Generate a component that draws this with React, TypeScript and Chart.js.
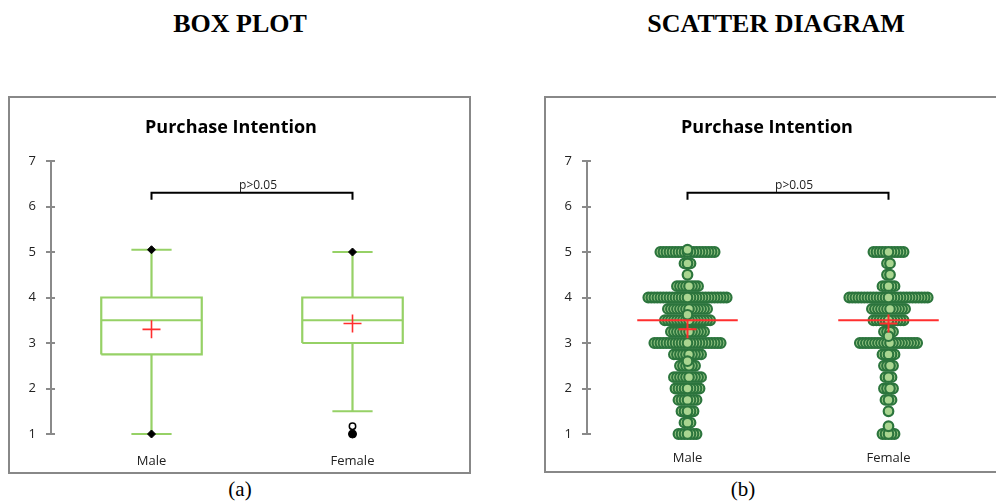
import React, { useEffect, useRef } from "react";
import { Chart, registerables } from "chart.js";

Chart.register(...registerables);

// ---------- data ----------
const CATEGORIES = ["Male", "Female"];
const CHART_TITLE = "Purchase Intention";
const P_LABEL = "p>0.05";
const Y_TICKS = [1, 2, 3, 4, 5, 6, 7];

// box plot summary
const BOX_Q1 = [2.75, 3];
const BOX_MEDIAN = [3.5, 3.5];
const BOX_Q3 = [4, 4];
const WHISKER_LOW = [1, 1.5];
const WHISKER_HIGH = [5.05, 5];
const MEANS = [3.3, 3.43];
const EXTREMES = [[1, 5.05], [5]];
const FILLED_OUTLIERS = [[], [1]];
const OPEN_OUTLIERS = [[], [1.17]];

// significance bracket
const BRACKET_LEVEL = 6.3;
const BRACKET_FOOT = 6.15;

// scatter diagram (panel b): responses per score level
const SCORE_LEVELS = [5, 4.75, 4.5, 4.25, 4, 3.75, 3.5, 3.25, 3, 2.75, 2.5, 2.25, 2, 1.75, 1.5, 1.25, 1];
const MALE_COUNTS = [19, 3, 1, 8, 27, 14, 16, 12, 23, 10, 6, 10, 9, 7, 5, 3, 7];
const FEMALE_COUNTS = [11, 2, 2, 5, 27, 12, 11, 4, 20, 5, 4, 3, 4, 3, 1, 0, 5];
const MALE_SINGLES = [5.05, 3.62, 2.6];
const FEMALE_SINGLES = [3.15, 1.17];

// ---------- styles ----------
const GREEN = "#96d166";
const DOT_FILL = "#a9d590";
const DOT_EDGE = "#2c753d";
const RED = "#ff2e2e";
const AXIS = "#8a8a8a";
const HALF_BOX = 0.25;
const HALF_CAP = 0.1;
const DOT_STEP = 0.015;

const seg = (pts: any[], color: string, width: number, order = 0) => ({
  type: "scatter",
  data: pts,
  showLine: true,
  borderColor: color,
  borderWidth: width,
  pointRadius: 0,
  pointHoverRadius: 0,
  fill: false,
  clip: false,
  order,
  tension: 0,
  borderCapStyle: "butt",
  borderJoinStyle: "miter",
});

const marks = (pts: any[], style: string, radius: number, bg: string, border: string, bw: number, order = 0) => ({
  type: "scatter",
  data: pts,
  showLine: false,
  pointStyle: style,
  pointRadius: radius,
  pointHoverRadius: radius,
  backgroundColor: bg,
  borderColor: border,
  borderWidth: bw,
  clip: false,
  order,
});

function boxDatasets() {
  const ds: any[] = [];
  CATEGORIES.forEach((_, i) => {
    const x = i + 1;
    const l = x - HALF_BOX, r = x + HALF_BOX;
    ds.push(seg([{ x, y: BOX_Q3[i] }, { x, y: WHISKER_HIGH[i] }], GREEN, 2.2, 2));
    ds.push(seg([{ x, y: BOX_Q1[i] }, { x, y: WHISKER_LOW[i] }], GREEN, 2.2, 2));
    ds.push(seg([{ x: x - HALF_CAP, y: WHISKER_HIGH[i] }, { x: x + HALF_CAP, y: WHISKER_HIGH[i] }], GREEN, 2.2, 2));
    ds.push(seg([{ x: x - HALF_CAP, y: WHISKER_LOW[i] }, { x: x + HALF_CAP, y: WHISKER_LOW[i] }], GREEN, 2.2, 2));
    ds.push(
      seg(
        [
          { x: l, y: BOX_Q1[i] },
          { x: r, y: BOX_Q1[i] },
          { x: r, y: BOX_Q3[i] },
          { x: l, y: BOX_Q3[i] },
          { x: l, y: BOX_Q1[i] },
        ],
        GREEN,
        2.2,
        2
      )
    );
    ds.push(seg([{ x: l, y: BOX_MEDIAN[i] }, { x: r, y: BOX_MEDIAN[i] }], GREEN, 2.2, 2));
    ds.push(marks([{ x, y: MEANS[i] }], "cross", 9, RED, RED, 1.6, 1));
    ds.push(marks(EXTREMES[i].map((y) => ({ x, y })), "rectRot", 4, "#000", "#000", 1, 0));
    ds.push(marks(FILLED_OUTLIERS[i].map((y) => ({ x, y })), "circle", 4, "#000", "#000", 1, 0));
    ds.push(marks(OPEN_OUTLIERS[i].map((y) => ({ x, y })), "circle", 3.2, "#fff", "#000", 1.5, 0));
  });
  return ds;
}

function swarm(x: number, counts: number[], singles: number[]) {
  const pts: any[] = [];
  SCORE_LEVELS.forEach((v, j) => {
    const n = counts[j];
    const ks: number[] = [];
    for (let k = 0; k < n; k++) ks.push(k - (n - 1) / 2);
    ks.sort((a, b) => Math.abs(b) - Math.abs(a) || a - b);
    ks.forEach((k) => pts.push({ x: x + k * DOT_STEP, y: v }));
  });
  singles.forEach((v) => pts.push({ x, y: v }));
  return pts;
}

function scatterDatasets() {
  const ds: any[] = [];
  const allCounts = [MALE_COUNTS, FEMALE_COUNTS];
  const allSingles = [MALE_SINGLES, FEMALE_SINGLES];
  CATEGORIES.forEach((_, i) => {
    const x = i + 1;
    ds.push(seg([{ x: x - HALF_BOX, y: BOX_MEDIAN[i] }, { x: x + HALF_BOX, y: BOX_MEDIAN[i] }], RED, 2, 1));
    ds.push(marks([{ x, y: MEANS[i] }], "cross", 9, RED, RED, 2, 0));
    ds.push(marks(swarm(x, allCounts[i], allSingles[i]), "circle", 4.8, DOT_FILL, DOT_EDGE, 2.2, 5));
  });
  return ds;
}

const extrasPlugin = {
  id: "extras",
  afterDraw(chart: any) {
    const { ctx, chartArea } = chart;
    const y = chart.scales.y;
    const x = chart.scales.x;
    ctx.save();
    ctx.strokeStyle = AXIS;
    ctx.lineWidth = 2;
    Y_TICKS.forEach((t) => {
      const py = Math.round(y.getPixelForValue(t));
      ctx.beginPath();
      ctx.moveTo(chartArea.left - 5, py);
      ctx.lineTo(chartArea.left + 4, py);
      ctx.stroke();
    });
    ctx.fillStyle = "#222";
    ctx.font = '12px "Open Sans"';
    ctx.textAlign = "center";
    ctx.textBaseline = "middle";
    ctx.fillText(P_LABEL, x.getPixelForValue(1.53), y.getPixelForValue(6.47));
    ctx.restore();
  },
};

function makeConfig(kind: "box" | "scatter", labelPad: number): any {
  const bracket = seg(
    [
      { x: 1, y: BRACKET_FOOT },
      { x: 1, y: BRACKET_LEVEL },
      { x: 2, y: BRACKET_LEVEL },
      { x: 2, y: BRACKET_FOOT },
    ],
    "#000",
    2,
    0
  );
  const datasets = [bracket, ...(kind === "box" ? boxDatasets() : scatterDatasets())];
  return {
    type: "scatter",
    data: { datasets },
    plugins: [extrasPlugin],
    options: {
      animation: false,
      responsive: false,
      events: [],
      layout: { padding: { left: 0, right: 16, top: 0, bottom: 0 } },
      plugins: {
        legend: { display: false },
        tooltip: { enabled: false },
        title: {
          display: true,
          text: CHART_TITLE,
          color: "#000",
          font: { family: '"Open Sans"', size: 18, weight: "bold" },
          padding: { top: 20, bottom: 22.4 },
        },
      },
      scales: {
        x: {
          type: "linear",
          min: 0.5,
          max: 2.5,
          afterBuildTicks: (s: any) => {
            s.ticks = CATEGORIES.map((_, i) => ({ value: i + 1 }));
          },
          afterFit: (s: any) => {
            s.height = 39;
          },
          ticks: {
            autoSkip: false,
            maxRotation: 0,
            padding: labelPad,
            color: "#222",
            font: { family: '"Open Sans"', size: 13 },
            callback: (v: any) => CATEGORIES[Math.round(v) - 1] ?? "",
          },
          grid: { display: false, drawTicks: false },
          border: { display: false },
        },
        y: {
          type: "linear",
          min: 1,
          max: 7,
          afterBuildTicks: (s: any) => {
            s.ticks = Y_TICKS.map((v) => ({ value: v }));
          },
          afterFit: (s: any) => {
            s.width = 42;
          },
          ticks: {
            padding: 15,
            color: "#222",
            font: { family: '"Open Sans"', size: 13 },
          },
          grid: { drawOnChartArea: false, drawTicks: false },
          border: { display: true, color: AXIS, width: 2 },
        },
      },
    },
  };
}

function Panel({ kind, left, labelPad }: { kind: "box" | "scatter"; left: number; labelPad: number }) {
  const ref = useRef<HTMLCanvasElement | null>(null);
  useEffect(() => {
    if (!ref.current) return;
    const chart = new Chart(ref.current, makeConfig(kind, labelPad));
    return () => chart.destroy();
  }, [kind, labelPad]);
  return (
    <canvas
      ref={ref}
      width={460}
      height={376}
      style={{ position: "absolute", left, top: 97, width: 460, height: 376 }}
    />
  );
}

const serif = '"Liberation Serif", "Times New Roman", serif';

export default function App() {
  useEffect(() => {
    document.body.style.margin = "0";
    document.body.style.overflow = "hidden";
  }, []);
  const heading: React.CSSProperties = {
    position: "absolute",
    top: 11,
    fontFamily: serif,
    fontWeight: "bold",
    fontSize: 26,
    lineHeight: "26px",
    textAlign: "center",
    width: 400,
    color: "#000",
  };
  const caption: React.CSSProperties = {
    position: "absolute",
    top: 479,
    fontFamily: serif,
    fontSize: 21,
    lineHeight: "21px",
    textAlign: "center",
    width: 100,
    color: "#000",
  };
  return (
    <div
      style={{
        position: "absolute",
        left: 0,
        top: 0,
        width: 996,
        height: 502,
        overflow: "hidden",
        background: "#fff",
      }}
    >
      <div style={{ ...heading, left: 240 - 200 }}>BOX PLOT</div>
      <div style={{ ...heading, left: 776 - 200 }}>SCATTER DIAGRAM</div>
      <Panel kind="box" left={9} labelPad={19} />
      <Panel kind="scatter" left={545} labelPad={16} />
      <div
        style={{
          position: "absolute",
          left: 8,
          top: 96,
          width: 463,
          height: 378,
          border: "2px solid #888",
          boxSizing: "border-box",
          pointerEvents: "none",
        }}
      />
      <div
        style={{
          position: "absolute",
          left: 544,
          top: 96,
          width: 470,
          height: 377,
          border: "2px solid #888",
          boxSizing: "border-box",
          pointerEvents: "none",
        }}
      />
      <div style={{ ...caption, left: 240 - 50 }}>(a)</div>
      <div style={{ ...caption, left: 743 - 50 }}>(b)</div>
    </div>
  );
}
